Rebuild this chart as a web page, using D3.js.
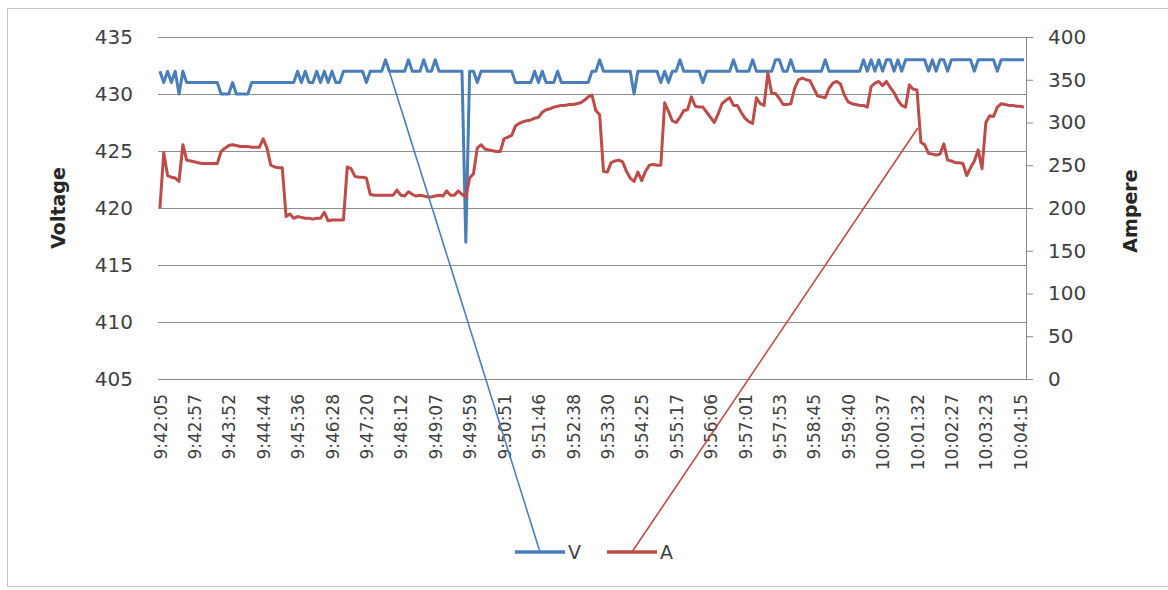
<!DOCTYPE html>
<html>
<head>
<meta charset="utf-8">
<script src="https://cdn.jsdelivr.net/npm/d3@7"></script>
<style>
  body { margin: 0; background: #fff; }
  text { font-family: "DejaVu Sans", sans-serif; fill: #404040; }
</style>
</head>
<body>
<script>
// category labels, one every 9 samples
var timeLabels = ["9:42:05", "9:42:57", "9:43:52", "9:44:44", "9:45:36", "9:46:28", "9:47:20",
    "9:48:12", "9:49:07", "9:49:59", "9:50:51", "9:51:46", "9:52:38", "9:53:30", "9:54:25",
    "9:55:17", "9:56:06", "9:57:01", "9:57:53", "9:58:45", "9:59:40", "10:00:37", "10:01:32",
    "10:02:27", "10:03:23", "10:04:15"];
var labelStep = 9;

// V series (left axis)
var voltage = [
    432,431,432,431,432,430,432,431,431,431,431,431,431,431,431,431,430,430,430,431,430,430,
    430,430,
    431,431,431,431,431,431,431,431,431,431,431,431,432,431,432,431,431,432,431,432,431,432,431,431,
    432,432,432,432,432,432,431,432,432,
    432,432,
    433,432,432,432,432,432,433,432,432,432,433,432,432,433,432,432,432,432,432,432,432,
    417,432,432,431,432,432,432,432,432,432,432,432,432,431,431,431,431,431,
    432,431,432,431,431,431,432,431,431,
    431,431,
    431,431,431,431,432,432,433,432,432,432,432,432,432,432,432,430,432,432,432,432,432,432,
    431,432,431,432,432,433,432,432,432,432,432,431,432,432,432,432,432,432,432,433,
    432,432,432,432,433,432,432,432,432,432,433,433,
    432,432,
    433,432,432,432,432,432,432,432,432,433,432,432,432,432,432,432,432,432,432,
    433,432,433,432,433,432,433,433,432,433,432,433,433,433,433,433,433,432,433,432,433,433,432,433,
    433,433,
    433,433,433,432,433,433,433,433,433,432,433,433,433,433,433,433,433
];

// A series (right axis)
var ampere = [
    200,265,238,236,235,231,274,256,255,254,253,252,252,252,252,252,266,270,273,274,273,272,
    272,272,
    271,271,271,281,270,250,248,247,247,190,193,188,190,189,188,188,187,
    188,188,195,185,186,186,186,186,248,246,237,236,236,235,216,215,
    215,215,
    215,215,215,221,215,214,219,216,214,215,214,213,213,214,215,214,220,215,215,220,216,213,235,
    240,270,274,269,268,267,266,266,281,283,285,296,299,301,302,303,305,306,312,315,
    316,318,319,320,320,
    321,321,
    322,323,326,330,332,314,309,243,242,253,255,256,254,243,235,231,242,232,243,250,251,250,250,323,
    313,302,300,306,314,315,330,319,318,318,312,306,300,310,322,326,329,320,320,312,
    305,301,299,329,322,320,358,334,334,328,
    321,321,
    322,340,350,352,350,349,340,331,330,329,340,346,348,345,332,324,322,321,320,
    320,318,342,346,348,343,348,341,335,326,320,318,344,339,338,277,274,264,263,262,263,275,256,255,
    253,253,
    252,238,247,255,268,246,300,308,307,318,322,321,320,320,319,319,318
];

var voltTicks = [405, 410, 415, 420, 425, 430, 435];
var ampTicks = [0, 50, 100, 150, 200, 250, 300, 350, 400];
var seriesNames = ["V", "A"];
var seriesColors = ["#4a7ebb", "#be4b48"];

// where the legend leader lines touch the series (sample index, value)
var leaderIdx = [59.6, 198.2];
var leaderVal = [432.4, 293.6];

var width = 1168, height = 590;
var margin = {top: 37, right: 142, bottom: 211, left: 158};
var plotW = width - margin.left - margin.right;
var plotH = height - margin.top - margin.bottom;

var svg = d3.select("body").append("svg")
    .attr("width", width)
    .attr("height", height);

// chart border
svg.append("rect")
    .attr("x", 7.5).attr("y", 8.5)
    .attr("width", 1200).attr("height", 578)
    .attr("fill", "none")
    .attr("stroke", "#c4c4c4");

var g = svg.append("g")
    .attr("transform", "translate(" + margin.left + "," + margin.top + ")");

var x = d3.scaleLinear().domain([-0.5, voltage.length - 0.5]).range([0, plotW]);
var yV = d3.scaleLinear().domain([405, 435]).range([plotH, 0]);
var yA = d3.scaleLinear().domain([0, 400]).range([plotH, 0]);

// left axis + gridlines
var left = g.append("g")
    .call(d3.axisLeft(yV).tickValues(voltTicks).tickSize(-plotW).tickPadding(25));
left.select(".domain").remove();
left.selectAll("line").attr("stroke", "#8f8f8f");
left.selectAll("text").style("font-size", "20px").attr("fill", "#404040");

// right axis
var right = g.append("g")
    .attr("transform", "translate(" + plotW + ",0)")
    .call(d3.axisRight(yA).tickValues(ampTicks).tickSize(7).tickSizeOuter(0).tickPadding(15));
right.selectAll("line, path").attr("stroke", "#8a8a8a");
right.selectAll("text").style("font-size", "20px").attr("fill", "#404040");

// category axis
var bottom = g.append("g")
    .attr("transform", "translate(0," + plotH + ")")
    .call(d3.axisBottom(x)
        .tickValues(d3.range(0, voltage.length, labelStep))
        .tickFormat(function (d, i) { return timeLabels[i]; })
        .tickSize(0).tickSizeOuter(0));
bottom.select(".domain").attr("stroke", "#8a8a8a");
bottom.selectAll("text")
    .style("font-size", "17px")
    .attr("fill", "#404040")
    .attr("transform", "rotate(-90)")
    .attr("text-anchor", "end")
    .attr("x", -15)
    .attr("y", 0)
    .attr("dy", "0.36em");

// axis titles
svg.append("text")
    .attr("transform", "translate(58,208) rotate(-90)")
    .attr("text-anchor", "middle")
    .attr("dy", "0.35em")
    .style("font-size", "19px")
    .style("font-weight", "bold")
    .style("fill", "#262626")
    .text("Voltage");
svg.append("text")
    .attr("transform", "translate(1130,211) rotate(-90)")
    .attr("text-anchor", "middle")
    .attr("dy", "0.35em")
    .style("font-size", "19px")
    .style("font-weight", "bold")
    .style("fill", "#262626")
    .text("Ampere");

// the two lines
var lineV = d3.line().x(function (d, i) { return x(i); }).y(function (d) { return yV(d); });
var lineA = d3.line().x(function (d, i) { return x(i); }).y(function (d) { return yA(d); });

g.append("path")
    .datum(voltage)
    .attr("fill", "none")
    .attr("stroke", seriesColors[0])
    .attr("stroke-width", 3)
    .attr("stroke-linejoin", "round")
    .attr("d", lineV);

g.append("path")
    .datum(ampere)
    .attr("fill", "none")
    .attr("stroke", seriesColors[1])
    .attr("stroke-width", 3)
    .attr("stroke-linejoin", "round")
    .attr("d", lineA);

// legend
var legendX = [515, 607];
var legendY = 552;
seriesNames.forEach(function (name, k) {
    svg.append("line")
        .attr("x1", legendX[k]).attr("x2", legendX[k] + 50)
        .attr("y1", legendY).attr("y2", legendY)
        .attr("stroke", seriesColors[k])
        .attr("stroke-width", 3.5);
    svg.append("text")
        .attr("x", legendX[k] + 53)
        .attr("y", legendY)
        .attr("dy", "0.35em")
        .style("font-size", "19px")
        .text(name);
});

// leader lines from legend to series
var leaderY = [yV(leaderVal[0]), yA(leaderVal[1])];
leaderIdx.forEach(function (idx, k) {
    svg.append("line")
        .attr("x1", legendX[k] + 25).attr("y1", legendY)
        .attr("x2", margin.left + x(idx)).attr("y2", margin.top + leaderY[k])
        .attr("stroke", seriesColors[k])
        .attr("stroke-width", 1.6);
});
</script>
</body>
</html>
